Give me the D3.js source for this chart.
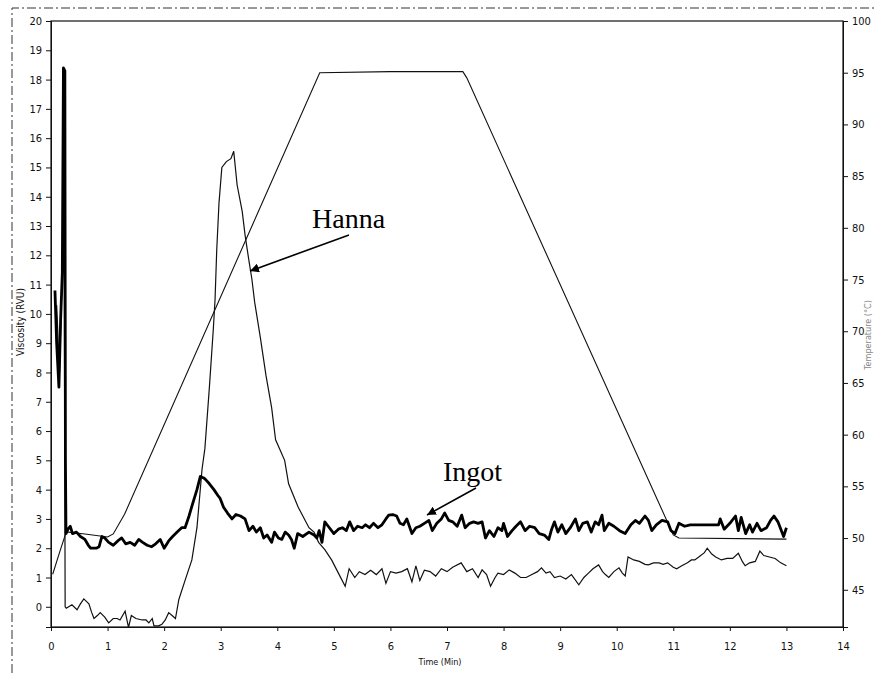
<!DOCTYPE html>
<head>
    <meta charset="utf-8">
    <title>RVA viscosity profile - Hanna / Ingot</title>
    <script src="https://d3js.org/d3.v7.min.js"></script>
    <style>
        body { margin:0; background:#fff; }
        .tick text { font-family: "Liberation Sans Narrow", "DejaVu Sans Condensed", "Liberation Sans", sans-serif; font-size: 11px; fill:#111; }
    </style>
</head>
<body>
    <svg id="chart" width="877" height="673"></svg>
    <script>
        // time (min), viscosity (RVU)
        const ingot = [
            [0.07,10.8],[0.1,9.0],[0.14,7.5],[0.17,9.8],[0.2,11.4],[0.22,18.4],[0.245,18.3],[0.255,5.0],[0.265,2.5],
            [0.3,2.65],[0.34,2.75],[0.38,2.5],[0.45,2.55],[0.52,2.4],[0.6,2.3],[0.66,2.1],[0.7,2.0],[0.8,2.0],[0.85,2.05],
            [0.9,2.4],[0.95,2.35],[1.02,2.2],[1.1,2.1],[1.18,2.25],[1.25,2.35],[1.32,2.15],[1.4,2.2],[1.48,2.1],[1.55,2.3],
            [1.62,2.2],[1.7,2.1],[1.78,2.05],[1.85,2.15],[1.93,2.3],[2.0,2.0],[2.08,2.25],[2.15,2.4],[2.23,2.55],[2.31,2.7],
            [2.37,2.7],[2.44,3.1],[2.5,3.5],[2.58,4.0],[2.64,4.45],[2.7,4.4],[2.73,4.35],[2.8,4.2],[2.88,4.0],[2.95,3.8],
            [2.99,3.7],[3.05,3.4],[3.12,3.2],[3.2,3.0],[3.27,3.15],[3.35,3.1],[3.43,3.0],[3.5,2.6],[3.57,2.75],[3.63,2.55],
            [3.7,2.7],[3.76,2.35],[3.82,2.45],[3.9,2.2],[3.95,2.55],[4.02,2.35],[4.08,2.3],[4.14,2.55],[4.2,2.45],[4.25,2.3],
            [4.3,2.0],[4.36,2.5],[4.45,2.4],[4.56,2.55],[4.65,2.45],[4.7,2.35],[4.74,2.6],[4.79,2.2],[4.84,2.9],[4.9,2.75],
            [5.0,2.5],[5.08,2.65],[5.15,2.7],[5.22,2.6],[5.28,2.9],[5.35,2.6],[5.42,2.75],[5.5,2.7],[5.56,2.8],[5.63,2.7],
            [5.7,2.85],[5.78,2.7],[5.85,2.8],[5.92,3.0],[5.97,3.13],[6.04,3.15],[6.11,3.1],[6.17,2.85],[6.23,2.8],[6.29,3.0],
            [6.38,2.5],[6.45,2.7],[6.52,2.75],[6.6,2.85],[6.68,2.95],[6.74,2.6],[6.82,2.85],[6.9,3.0],[6.96,3.2],[7.03,2.95],
            [7.1,2.9],[7.18,2.75],[7.26,3.13],[7.32,2.7],[7.4,2.85],[7.47,2.9],[7.55,2.85],[7.62,2.9],[7.68,2.35],[7.75,2.6],
            [7.83,2.4],[7.9,2.7],[7.97,2.6],[8.0,2.85],[8.07,2.4],[8.15,2.6],[8.22,2.75],[8.3,2.9],[8.38,2.6],[8.46,2.75],
            [8.55,2.7],[8.63,2.5],[8.72,2.45],[8.8,2.3],[8.85,2.65],[8.9,2.9],[8.96,2.55],[9.03,2.8],[9.1,2.5],[9.18,2.7],
            [9.27,3.0],[9.33,2.6],[9.4,2.85],[9.48,2.9],[9.55,2.55],[9.62,2.9],[9.68,2.8],[9.74,3.13],[9.78,2.6],[9.86,2.85],
            [9.95,2.75],[10.05,2.6],[10.15,2.5],[10.25,2.8],[10.33,2.95],[10.4,2.85],[10.5,3.1],[10.56,2.95],[10.62,2.6],
            [10.7,2.8],[10.8,2.95],[10.9,2.9],[10.96,2.6],[11.03,2.5],[11.1,2.85],[11.2,2.75],[11.3,2.8],[11.5,2.8],
            [11.8,2.8],[11.83,3.0],[11.9,2.65],[12.0,2.85],[12.1,3.1],[12.15,2.6],[12.2,3.05],[12.28,2.5],[12.35,2.8],
            [12.4,2.55],[12.48,2.85],[12.55,2.6],[12.65,2.7],[12.72,2.95],[12.78,3.1],[12.85,2.9],[12.95,2.4],[13.0,2.7]
        ];

        const hanna = [
            [0.1,10.3],[0.15,8.0],[0.2,11.6],[0.235,11.4],[0.25,0.0],[0.27,-0.05],[0.37,0.07],[0.46,-0.1],[0.52,0.1],
            [0.58,0.27],[0.67,0.1],[0.72,-0.2],[0.76,-0.4],[0.82,-0.3],[0.87,-0.2],[0.95,-0.35],[1.02,-0.55],[1.1,-0.4],
            [1.17,-0.4],[1.22,-0.45],[1.31,-0.15],[1.37,-0.7],[1.42,-0.3],[1.5,-0.4],[1.61,-0.45],[1.68,-0.45],[1.73,-0.55],
            [1.79,-0.4],[1.82,-0.65],[1.9,-0.65],[1.96,-0.6],[2.02,-0.45],[2.08,-0.2],[2.14,-0.3],[2.2,-0.4],[2.26,0.25],
            [2.37,0.9],[2.49,1.6],[2.58,2.7],[2.67,4.7],[2.72,5.4],[2.8,7.5],[2.87,9.5],[2.9,10.5],[2.93,12.2],[2.97,13.8],
            [3.02,15.0],[3.1,15.2],[3.18,15.3],[3.23,15.55],[3.29,14.4],[3.38,13.5],[3.43,12.7],[3.5,11.8],[3.55,11.2],
            [3.6,10.4],[3.7,9.2],[3.8,7.9],[3.9,6.8],[3.97,5.7],[4.05,5.35],[4.13,5.0],[4.2,4.2],[4.37,3.4],[4.56,2.7],
            [4.65,2.55],[4.73,2.2],[4.84,1.95],[4.96,1.6],[5.08,1.15],[5.2,0.7],[5.27,1.3],[5.37,1.0],[5.45,1.2],[5.55,1.1],
            [5.65,1.25],[5.75,1.1],[5.85,1.3],[5.92,0.8],[6.0,1.2],[6.1,1.15],[6.2,1.2],[6.3,1.3],[6.38,0.85],[6.45,1.4],
            [6.52,0.9],[6.6,1.25],[6.7,1.2],[6.8,1.05],[6.9,1.3],[7.0,1.2],[7.1,1.35],[7.25,1.5],[7.35,1.2],[7.45,1.3],
            [7.55,1.0],[7.62,1.26],[7.7,1.1],[7.77,0.7],[7.85,1.0],[7.9,1.15],[8.0,1.1],[8.1,1.26],[8.2,1.15],[8.3,1.0],
            [8.4,1.0],[8.5,1.1],[8.6,1.2],[8.67,1.33],[8.75,1.15],[8.82,1.2],[8.9,1.0],[9.0,1.05],[9.1,0.95],[9.2,1.1],
            [9.33,0.75],[9.42,1.0],[9.5,1.15],[9.58,1.3],[9.68,1.43],[9.75,1.2],[9.8,1.1],[9.86,1.0],[9.95,1.2],[10.04,1.33],
            [10.1,1.15],[10.15,1.05],[10.2,1.7],[10.3,1.6],[10.4,1.55],[10.5,1.45],[10.56,1.43],[10.65,1.5],[10.75,1.5],
            [10.82,1.45],[10.9,1.5],[11.0,1.35],[11.06,1.3],[11.15,1.4],[11.25,1.5],[11.32,1.6],[11.38,1.6],[11.45,1.7],
            [11.55,1.85],[11.6,2.0],[11.68,1.8],[11.75,1.7],[11.85,1.6],[11.95,1.65],[12.05,1.65],[12.15,1.83],[12.22,1.55],
            [12.27,1.4],[12.35,1.5],[12.45,1.55],[12.53,1.9],[12.6,1.75],[12.7,1.7],[12.8,1.65],[12.9,1.5],[13.0,1.4]
        ];

        // time (min), temperature (deg C)
        const temperature = [
            [0.03,46.5],[0.15,48.6],[0.27,50.6],[0.6,50.4],[1.0,50.1],[1.1,50.4],[1.3,52.3],[4.75,95],[6.0,95.1],
            [7.28,95.1],[7.35,94.5],[11.0,50.3],[11.1,50.0],[13.0,49.9]
        ];

        const xTicks = d3.range(0, 15);
        const viscTicks = d3.range(0, 21);
        const tempTicks = d3.range(45, 101, 5);

        const svg = d3.select("#chart");
        const plotL = 51, plotR = 843, plotT = 21, plotB = 627;

        const x = d3.scaleLinear().domain([0, 14]).range([plotL, plotR]);
        const yV = d3.scaleLinear().domain([-0.69, 20]).range([plotB, plotT]);
        const yT = d3.scaleLinear().domain([41.4, 100]).range([plotB, plotT]);

        // scanned page border
        svg.append("path")
            .attr("d", "M12,673 L12,8 L877,8")
            .attr("fill", "none").attr("stroke", "#333")
            .attr("stroke-width", 1).attr("stroke-dasharray", "9,3,2,3");

        // frame
        svg.append("rect")
            .attr("x", plotL).attr("y", plotT)
            .attr("width", plotR - plotL).attr("height", plotB - plotT)
            .attr("fill", "none").attr("stroke", "#111").attr("stroke-width", 1.2);

        const styleAxis = g => {
            g.select(".domain").attr("stroke", "#111");
            g.selectAll(".tick line").attr("stroke", "#111");
        };

        svg.append("g")
            .attr("transform", `translate(0,${plotB})`)
            .call(d3.axisBottom(x).tickValues(xTicks).tickSize(4).tickPadding(11))
            .call(styleAxis);

        svg.append("g")
            .attr("transform", `translate(${plotL},0)`)
            .call(d3.axisLeft(yV).tickValues(viscTicks).tickSize(5).tickPadding(4))
            .call(styleAxis);

        svg.append("g")
            .attr("transform", `translate(${plotR},0)`)
            .call(d3.axisRight(yT).tickValues(tempTicks).tickSize(5).tickPadding(4))
            .call(styleAxis);

        const labelFont = '"Liberation Sans Narrow", "DejaVu Sans Condensed", "Liberation Sans", sans-serif';

        svg.append("text")
            .attr("transform", "translate(24,322) rotate(-90)")
            .attr("text-anchor", "middle")
            .style("font", `10px ${labelFont}`)
            .attr("fill", "#111")
            .text("Viscosity (RVU)");

        svg.append("text")
            .attr("x", 440).attr("y", 665)
            .attr("text-anchor", "middle")
            .style("font", `9px ${labelFont}`)
            .attr("fill", "#111")
            .text("Time (Min)");

        svg.append("text")
            .attr("transform", "translate(871,335) rotate(-90)")
            .attr("text-anchor", "middle")
            .style("font", `9px ${labelFont}`)
            .attr("fill", "#888")
            .text("Temperature (°C)");

        const lineV = d3.line().x(d => x(d[0])).y(d => yV(d[1]));
        const lineT = d3.line().x(d => x(d[0])).y(d => yT(d[1]));

        svg.append("path").datum(temperature)
            .attr("d", lineT).attr("fill", "none")
            .attr("stroke", "#111").attr("stroke-width", 1.1);

        svg.append("path").datum(hanna)
            .attr("d", lineV).attr("fill", "none")
            .attr("stroke", "#111").attr("stroke-width", 1.2);

        svg.append("path").datum(ingot)
            .attr("d", lineV).attr("fill", "none")
            .attr("stroke", "#000").attr("stroke-width", 2.8)
            .attr("stroke-linejoin", "round");

        // annotations
        svg.append("defs").append("marker")
            .attr("id", "head")
            .attr("viewBox", "0 0 10 10")
            .attr("refX", 10).attr("refY", 5)
            .attr("markerWidth", 9).attr("markerHeight", 9)
            .attr("markerUnits", "userSpaceOnUse")
            .attr("orient", "auto")
            .append("path").attr("d", "M0,0 L10,5 L0,10 Z").attr("fill", "#000");

        svg.append("text")
            .attr("x", 312).attr("y", 228)
            .style("font", '28px "Liberation Serif", "Times New Roman", serif')
            .attr("fill", "#000")
            .text("Hanna");

        svg.append("text")
            .attr("x", 443).attr("y", 481)
            .style("font", '28px "Liberation Serif", "Times New Roman", serif')
            .attr("fill", "#000")
            .text("Ingot");

        svg.append("line")
            .attr("x1", 349).attr("y1", 235).attr("x2", 250).attr("y2", 271)
            .attr("stroke", "#000").attr("stroke-width", 1.6)
            .attr("marker-end", "url(#head)");

        svg.append("line")
            .attr("x1", 476).attr("y1", 488).attr("x2", 427).attr("y2", 515)
            .attr("stroke", "#000").attr("stroke-width", 1.6)
            .attr("marker-end", "url(#head)");
    </script>
</body>
